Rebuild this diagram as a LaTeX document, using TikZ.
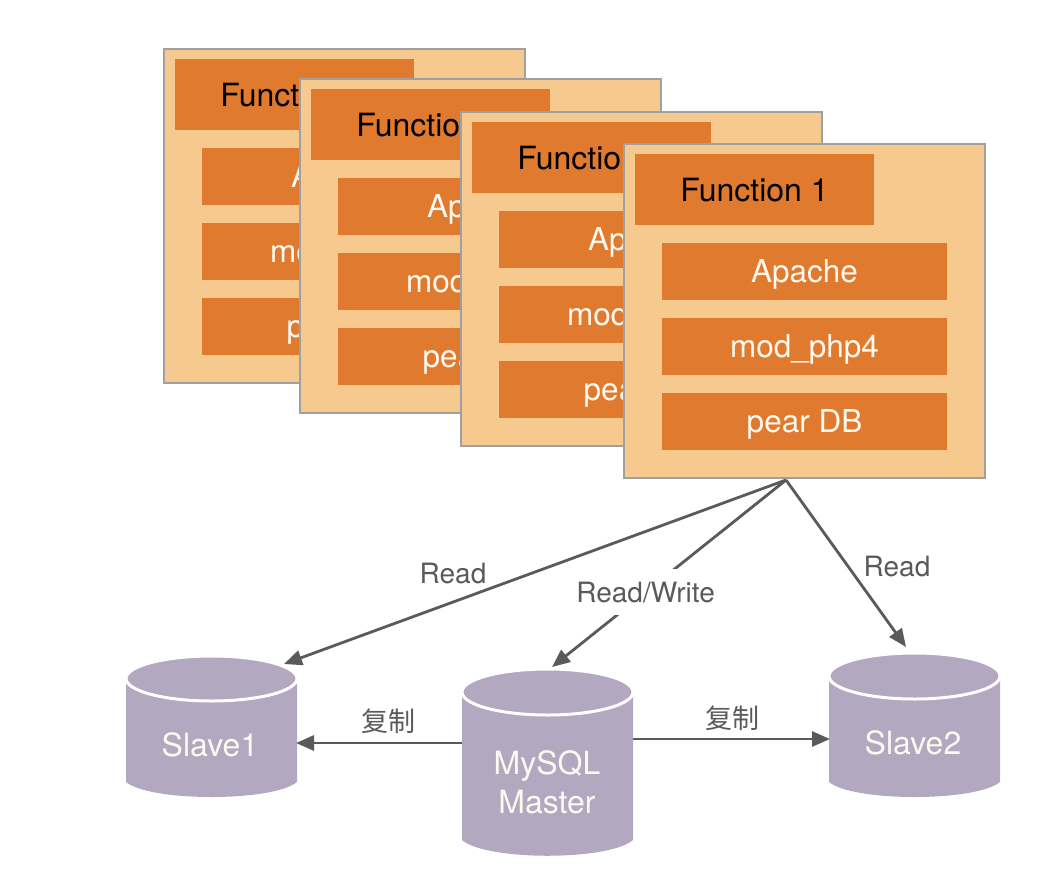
\documentclass[tikz,border=0pt]{standalone}
\usepackage{fontspec}
\setmainfont{TeX Gyre Heros}
\newfontfamily\cjk{Noto Sans CJK SC}
\usetikzlibrary{arrows.meta}
\definecolor{cardfill}{HTML}{F6CA8E}
\definecolor{cardline}{HTML}{A0A0A0}
\definecolor{barfill}{HTML}{E07A2F}
\definecolor{bartext}{HTML}{FFF8EE}
\definecolor{cylfill}{HTML}{B2A9C1}
\definecolor{arrcol}{HTML}{5A5A5A}
\tikzset{
  card/.style={draw=cardline, line width=1.5pt, fill=cardfill, anchor=north west,
    minimum width=361pt, minimum height=334pt, inner sep=0pt},
  fnbar/.style={fill=barfill, minimum width=239pt, minimum height=71pt, inner sep=0pt,
    text=black, font=\fontsize{32}{36}\selectfont, text height=23pt, text depth=0pt},
  bar/.style={fill=barfill, minimum width=285pt, minimum height=57pt, inner sep=0pt,
    text=bartext, font=\fontsize{31.5}{36}\selectfont, text height=22.6pt, text depth=0pt},
  cyltext/.style={text=bartext, font=\fontsize{32}{36}\selectfont, text height=23pt,
    text depth=0pt, inner sep=0pt},
  lbl/.style={text=arrcol, font=\fontsize{28}{32}\selectfont, text height=20.1pt,
    text depth=0pt, inner sep=0pt},
  cjklbl/.style={text=arrcol, font=\cjk\fontsize{27}{30}\selectfont, text height=20.5pt,
    text depth=0pt, inner sep=0pt},
  arr/.style={draw=arrcol, line width=2.8pt, -{Triangle[length=18pt, width=15pt]}},
  cylbody/.style={fill=cylfill},
  cyltop/.style={fill=cylfill, draw=white, line width=3pt},
}
\begin{document}
\begin{tikzpicture}[x=1pt, y=-1pt]
\useasboundingbox[fill=white] (0,0) rectangle (1050,876);

% stacked function cards
\foreach \i/\x/\y in {1/163/48, 2/299/78, 3/460/111, 4/623/143} {
  \node[card] (card\i) at (\x,\y) {};
  \node[fnbar] (fn\i) at (\x+131.5, \y+46.5) {Function 1};
  \node[bar] (ap\i) at (\x+181.5, \y+128.5) {Apache};
  \node[bar] (mp\i) at (\x+181.5, \y+203.5) {mod\_php4};
  \node[bar] (pd\i) at (\x+181.5, \y+278.5) {pear DB};
}

% cylinders: Slave1
\fill[cylbody] (126,678.5) -- (126,782) .. controls (150,802) and (273,802) .. (297,782) -- (297,678.5) -- cycle;
\path[cyltop] (211.5,678.5) ellipse [x radius=85.5pt, y radius=22.5pt];
\node[cyltext] (s1) at (210,745) {Slave1};

% Master
\fill[cylbody] (462,692) -- (462,840) .. controls (486,861) and (609,861) .. (633,840) -- (633,692) -- cycle;
\path[cyltop] (547.5,692) ellipse [x radius=85.5pt, y radius=23pt];
\node[cyltext] (m1) at (547,763) {MySQL};
\node[cyltext] (m2) at (547,802) {Master};

% Slave2
\fill[cylbody] (829,676) -- (829,782) .. controls (853,802) and (976,802) .. (1000,782) -- (1000,676) -- cycle;
\path[cyltop] (914.5,676) ellipse [x radius=85.5pt, y radius=23pt];
\node[cyltext] (s2) at (913,743) {Slave2};

% connector end points
\coordinate (apex) at (786,480);
\coordinate (s1top) at (284,664);
\coordinate (mtop) at (552,667);
\coordinate (s2top) at (906,647);
\coordinate (mL) at (462,743);
\coordinate (s1R) at (296,743);
\coordinate (mR) at (633,739);
\coordinate (s2L) at (830,739);

% arrows
\draw[arr] (apex) -- (s1top);
\draw[arr] (apex) -- (s2top);
\draw[arr] (apex) -- (mtop)
  node[pos=0.6, lbl, fill=white, inner xsep=2pt, inner ysep=13pt] (rw) {Read/Write};
\draw[arr] (mL) -- (s1R);
\draw[arr] (mR) -- (s2L);

% labels
\node[lbl] (r1) at (453,573) {Read};
\node[lbl] (r2) at (897,566) {Read};
\node[cjklbl] (c1) at (388,721) {复制};
\node[cjklbl] (c2) at (732,718) {复制};
\end{tikzpicture}
\end{document}
